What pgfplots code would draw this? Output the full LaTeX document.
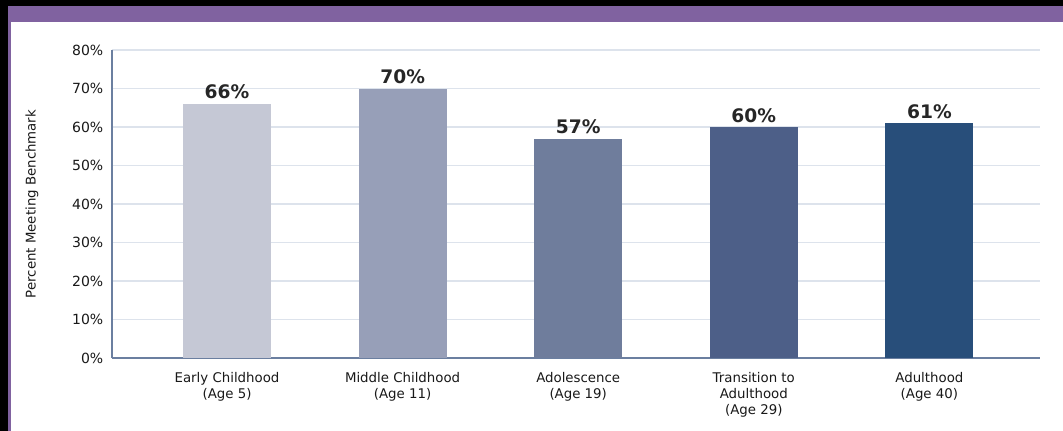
\documentclass[border=0pt]{standalone}
\usepackage{pgfplots}
\pgfplotsset{compat=1.18}
\usepackage{fontspec}
\setmainfont{DejaVu Sans}
\definecolor{cA}{HTML}{C5C8D5}
\definecolor{cB}{HTML}{979FB8}
\definecolor{cC}{HTML}{6F7D9C}
\definecolor{cD}{HTML}{4D5F88}
\definecolor{cE}{HTML}{284E7A}
\definecolor{purp}{HTML}{8062A0}
\definecolor{axc}{HTML}{6B7FA0}
\definecolor{gridc}{HTML}{DDE3EC}
\newcommand{\PX}[2]{({#1*0.75pt},{-#2*0.75pt})}
\begin{document}
\begin{tikzpicture}
\useasboundingbox \PX{0}{0} rectangle \PX{1063}{431};
\fill[white] \PX{0}{0} rectangle \PX{1063}{431};
\fill[black] \PX{0}{0} rectangle \PX{1063}{6};
\fill[black] \PX{0}{0} rectangle \PX{8}{431};
\fill[purp] \PX{8}{6} rectangle \PX{1063}{22};
\fill[purp] \PX{8}{6} rectangle \PX{11}{431};
\begin{axis}[
  at={(84pt,-268.5pt)}, anchor=south west,
  scale only axis, width=696pt, height=231pt,
  ymin=0, ymax=80, xmin=-0.655, xmax=4.63,
  ytick={0,10,...,80},
  yticklabel={\pgfmathprintnumber{\tick}\%},
  /pgf/number format/assume math mode=true,
  yticklabel style={font=\fontsize{10.5}{12}\selectfont\color{black!90}, xshift=-3pt},
  xtick={0,1,2,3,4},
  xticklabels={{Early Childhood\\(Age 5)},{Middle Childhood\\(Age 11)},{Adolescence\\(Age 19)},{Transition to\\Adulthood\\(Age 29)},{Adulthood\\(Age 40)}},
  xticklabel style={font=\fontsize{10}{12}\selectfont\color{black!90}, align=center, yshift=-7pt},
  major tick length=0pt,
  axis x line*=bottom, axis y line*=left,
  axis line style={axc, line width=1.2pt, -},
  ymajorgrids, grid style={gridc, line width=1.2pt},
  ylabel={Percent Meeting Benchmark},
  ylabel style={font=\fontsize{10}{12}\selectfont, color=black!90, anchor=center, at={(axis description cs:-0.0862,0.5)}},
  nodes near coords={\pgfmathprintnumber{\pgfplotspointmeta}\%},
  nodes near coords style={font=\fontsize{14}{16}\bfseries\selectfont, color=black!85, /pgf/number format/assume math mode=true, yshift=0pt},
  clip=false,
]
\addplot[ybar, bar width=66pt, fill=cA, draw=none] coordinates {(0,66)};
\addplot[ybar, bar width=66pt, fill=cB, draw=none] coordinates {(1,70)};
\addplot[ybar, bar width=66pt, fill=cC, draw=none] coordinates {(2,57)};
\addplot[ybar, bar width=66pt, fill=cD, draw=none] coordinates {(3,60)};
\addplot[ybar, bar width=66pt, fill=cE, draw=none] coordinates {(4,61)};
\end{axis}
\end{tikzpicture}
\end{document}
